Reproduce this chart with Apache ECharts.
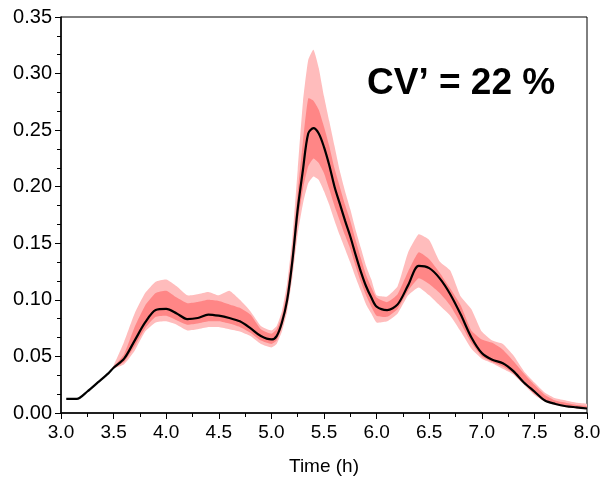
<!DOCTYPE html>
<html>
<head>
<meta charset="utf-8">
<script src="https://cdn.jsdelivr.net/npm/echarts@6/dist/echarts.min.js"></script>
<style>
  html, body { margin: 0; padding: 0; background: #fff; }
  #chart { width: 601px; height: 479px; }
</style>
</head>
<body>
<div id="chart"></div>
<script>
// time points (h)
var times = [3.05, 3.15, 3.25, 3.35, 3.45, 3.5, 3.6, 3.7, 3.8, 3.9, 4.0, 4.1, 4.2, 4.3, 4.4, 4.5, 4.6, 4.7, 4.8, 4.9,
  5.0, 5.05, 5.1, 5.15, 5.2, 5.25, 5.3, 5.35, 5.4, 5.45, 5.5, 5.55, 5.6, 5.65, 5.7, 5.75, 5.8, 5.85, 5.9, 5.95,
  6.0, 6.1, 6.2, 6.3, 6.4, 6.5, 6.6, 6.7, 6.8, 6.9, 7.0, 7.1, 7.2, 7.3, 7.4, 7.5, 7.6, 7.7, 7.8, 7.9, 8.0];

// median curve
var median = [0.0124, 0.0125, 0.019, 0.027, 0.035, 0.040, 0.048, 0.064, 0.080, 0.091, 0.092, 0.088, 0.083, 0.084, 0.087, 0.086, 0.084, 0.081, 0.075, 0.068,
  0.065, 0.068, 0.080, 0.100, 0.135, 0.180, 0.215, 0.247, 0.2517, 0.247, 0.235, 0.219, 0.200, 0.185, 0.170, 0.156, 0.140, 0.125, 0.112, 0.102,
  0.094, 0.091, 0.096, 0.113, 0.130, 0.128, 0.119, 0.105, 0.087, 0.067, 0.053, 0.047, 0.044, 0.037, 0.027, 0.019, 0.011, 0.008, 0.006, 0.005, 0.004];

// outer band (light)
var lightLow = [0.0124, 0.0125, 0.019, 0.027, 0.035, 0.039, 0.043, 0.055, 0.072, 0.080, 0.081, 0.078, 0.073, 0.074, 0.076, 0.076, 0.074, 0.072, 0.068, 0.061,
  0.058, 0.061, 0.072, 0.090, 0.120, 0.158, 0.185, 0.203, 0.209, 0.206, 0.196, 0.184, 0.170, 0.157, 0.145, 0.133, 0.120, 0.108, 0.096, 0.088,
  0.080, 0.081, 0.088, 0.104, 0.111, 0.104, 0.095, 0.086, 0.072, 0.057, 0.048, 0.044, 0.039, 0.034, 0.025, 0.016, 0.010, 0.007, 0.005, 0.004, 0.0035];
var lightHigh = [0.0124, 0.0125, 0.019, 0.027, 0.035, 0.042, 0.063, 0.088, 0.106, 0.116, 0.118, 0.112, 0.104, 0.105, 0.107, 0.104, 0.108, 0.100, 0.090, 0.077,
  0.073, 0.077, 0.090, 0.115, 0.155, 0.215, 0.275, 0.312, 0.321, 0.305, 0.280, 0.258, 0.236, 0.214, 0.196, 0.180, 0.162, 0.146, 0.130, 0.118,
  0.104, 0.103, 0.112, 0.142, 0.158, 0.153, 0.134, 0.126, 0.103, 0.092, 0.072, 0.064, 0.061, 0.051, 0.037, 0.027, 0.018, 0.013, 0.011, 0.009, 0.008];

// inner band (dark)
var darkLow = [0.0124, 0.0125, 0.019, 0.027, 0.035, 0.0395, 0.045, 0.059, 0.075, 0.085, 0.086, 0.082, 0.078, 0.079, 0.081, 0.081, 0.079, 0.076, 0.071, 0.064,
  0.061, 0.064, 0.076, 0.095, 0.127, 0.168, 0.198, 0.218, 0.225, 0.221, 0.212, 0.198, 0.183, 0.170, 0.157, 0.145, 0.130, 0.116, 0.104, 0.094,
  0.086, 0.085, 0.092, 0.108, 0.119, 0.114, 0.106, 0.095, 0.079, 0.062, 0.050, 0.045, 0.041, 0.035, 0.026, 0.017, 0.011, 0.0075, 0.0055, 0.0045, 0.004];
var darkHigh = [0.0124, 0.0125, 0.019, 0.027, 0.035, 0.041, 0.052, 0.076, 0.095, 0.106, 0.108, 0.102, 0.097, 0.098, 0.100, 0.099, 0.096, 0.093, 0.087, 0.074,
  0.070, 0.074, 0.085, 0.108, 0.145, 0.195, 0.240, 0.278, 0.276, 0.268, 0.253, 0.236, 0.216, 0.200, 0.184, 0.170, 0.153, 0.137, 0.122, 0.111,
  0.102, 0.098, 0.105, 0.125, 0.142, 0.136, 0.124, 0.110, 0.095, 0.073, 0.065, 0.062, 0.056, 0.046, 0.035, 0.025, 0.016, 0.011, 0.009, 0.007, 0.006];

var annotation = "CV’ = 22 %";

var lightColor = '#ffbcbc';
var darkColor = '#ff8686';
var FONT = 'Liberation Sans, Arial, sans-serif';

// each band: [low array, high array, colour]
var bands = [[lightLow, lightHigh, lightColor], [darkLow, darkHigh, darkColor]];

function renderBand(params, api) {
  var b = bands[params.dataIndex];
  var pts = [];
  for (var i = 0; i < times.length; i++) pts.push(api.coord([times[i], b[1][i]]));
  for (var j = times.length - 1; j >= 0; j--) pts.push(api.coord([times[j], b[0][j]]));
  return {
    type: 'polygon',
    shape: { points: pts, smooth: 0.15 },
    style: { fill: b[2], stroke: null }
  };
}

var chart = echarts.init(document.getElementById('chart'));
chart.setOption({
  animation: false,
  grid: {
    left: 61, right: 14, top: 17, bottom: 66, show: true, borderColor: '#000', borderWidth: 1,
    outerBoundsMode: 'none'
  },
  graphic: [{
    type: 'text', left: 367, top: 65, z: 10,
    style: { text: annotation, font: 'bold 37px ' + FONT, fill: '#000' }
  }],
  xAxis: {
    type: 'value', min: 3, max: 8, interval: 0.5,
    name: 'Time (h)', nameLocation: 'middle', nameGap: 44,
    nameTextStyle: { fontFamily: FONT, fontSize: 19, color: '#000' },
    axisLine: { lineStyle: { color: '#000', width: 1.5 } },
    axisTick: { length: 6, lineStyle: { color: '#000' } },
    minorTick: { show: true, splitNumber: 2, length: 4, lineStyle: { color: '#000' } },
    splitLine: { show: false },
    axisLabel: { formatter: function (v) { return v.toFixed(1); }, fontFamily: FONT, fontSize: 19, color: '#000', margin: 10 }
  },
  yAxis: {
    type: 'value', min: 0, max: 0.35, interval: 0.05,
    axisLine: { show: true, lineStyle: { color: '#000', width: 1.5 } },
    axisTick: { show: true, length: 6, lineStyle: { color: '#000' } },
    minorTick: { show: true, splitNumber: 3, length: 4, lineStyle: { color: '#000' } },
    splitLine: { show: false },
    axisLabel: { formatter: function (v) { return v.toFixed(2); }, fontFamily: FONT, fontSize: 20, color: '#000', margin: 9 }
  },
  series: [
    {
      name: 'bands', type: 'custom', renderItem: renderBand, silent: true,
      data: [[0], [1]], encode: { x: -1, y: -1 }, clip: true
    },
    {
      name: 'median', type: 'line', data: median.map(function (y, i) { return [times[i], y]; }),
      smooth: 0.3, symbol: 'none', lineStyle: { color: '#000', width: 2.2 }, z: 5
    }
  ]
});
</script>
</body>
</html>
